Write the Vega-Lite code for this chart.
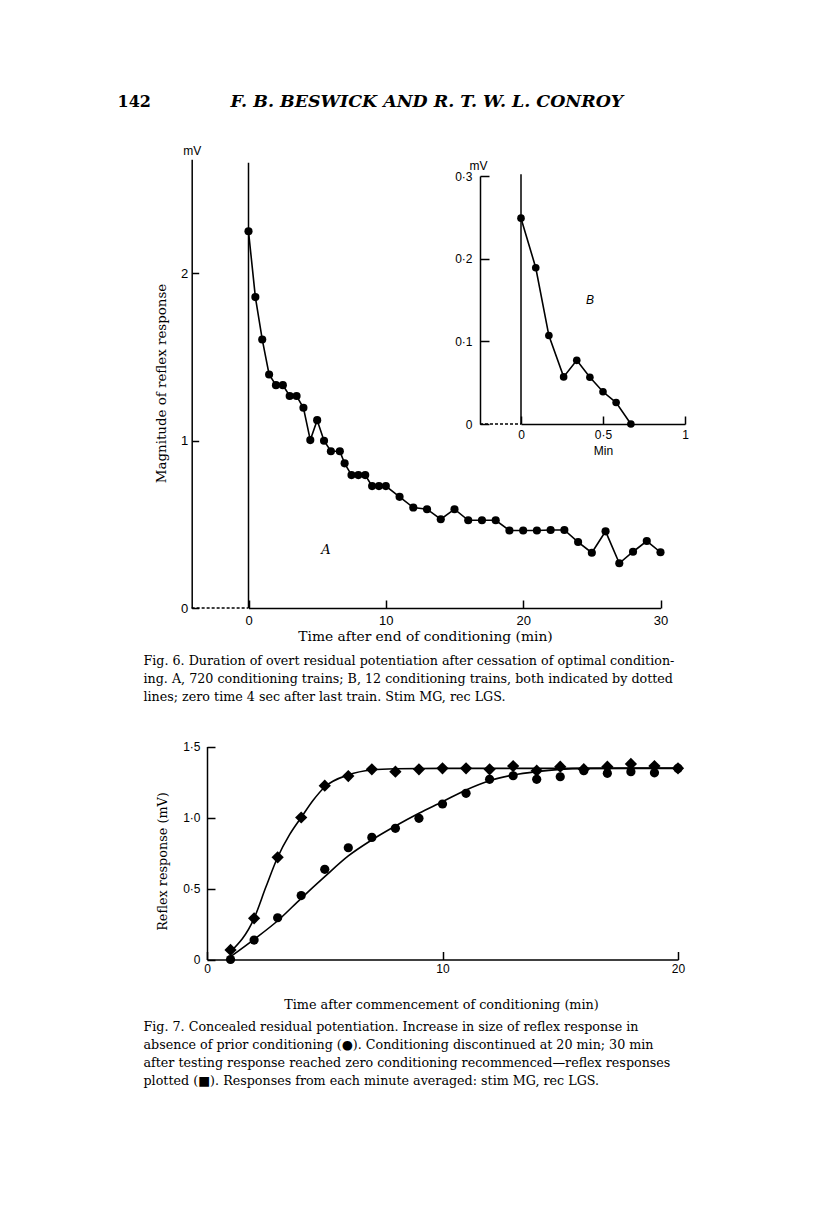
{
  "$schema": "https://vega.github.io/schema/vega-lite/v6.json",
  "width": 816,
  "height": 1221,
  "autosize": {"type": "none"},
  "padding": 0,
  "background": "white",
  "config": {
    "view": {"stroke": null},
    "axis": {"grid": false, "domainColor": "black", "tickColor": "black", "labelColor": "black", "titleColor": "black", "labelFlush": false, "labelOverlap": false}
  },
  "datasets": {
    "fig6": [
      {"t": 0, "mv": 2.25}, {"t": 0.5, "mv": 1.857}, {"t": 1, "mv": 1.604}, {"t": 1.5, "mv": 1.395},
      {"t": 2, "mv": 1.331}, {"t": 2.5, "mv": 1.331}, {"t": 3, "mv": 1.266}, {"t": 3.5, "mv": 1.266},
      {"t": 4, "mv": 1.196}, {"t": 4.5, "mv": 1.003}, {"t": 5, "mv": 1.122}, {"t": 5.5, "mv": 0.999},
      {"t": 6, "mv": 0.936}, {"t": 6.65, "mv": 0.936}, {"t": 7, "mv": 0.864}, {"t": 7.5, "mv": 0.794},
      {"t": 8, "mv": 0.794}, {"t": 8.5, "mv": 0.794}, {"t": 9, "mv": 0.728}, {"t": 9.5, "mv": 0.728},
      {"t": 10, "mv": 0.728}, {"t": 11, "mv": 0.664}, {"t": 12, "mv": 0.6}, {"t": 13, "mv": 0.59},
      {"t": 14, "mv": 0.53}, {"t": 15, "mv": 0.59}, {"t": 16, "mv": 0.524}, {"t": 17, "mv": 0.524},
      {"t": 18, "mv": 0.524}, {"t": 19, "mv": 0.463}, {"t": 20, "mv": 0.463}, {"t": 21, "mv": 0.463},
      {"t": 22, "mv": 0.466}, {"t": 23, "mv": 0.466}, {"t": 24, "mv": 0.394}, {"t": 25, "mv": 0.33},
      {"t": 26, "mv": 0.458}, {"t": 27, "mv": 0.267}, {"t": 28, "mv": 0.336}, {"t": 29, "mv": 0.4},
      {"t": 30, "mv": 0.333}
    ],
    "fig6b": [
      {"t": 0, "mv": 0.249}, {"t": 0.09, "mv": 0.189}, {"t": 0.17, "mv": 0.107}, {"t": 0.26, "mv": 0.057},
      {"t": 0.34, "mv": 0.077}, {"t": 0.42, "mv": 0.0565}, {"t": 0.5, "mv": 0.039}, {"t": 0.58, "mv": 0.026},
      {"t": 0.67, "mv": 0}
    ],
    "fig7pts": [
      {"t": 1, "mv": 0.0, "series": "absent"}, {"t": 2, "mv": 0.137, "series": "absent"},
      {"t": 3, "mv": 0.294, "series": "absent"}, {"t": 4, "mv": 0.45, "series": "absent"},
      {"t": 5, "mv": 0.635, "series": "absent"}, {"t": 6, "mv": 0.787, "series": "absent"},
      {"t": 7, "mv": 0.86, "series": "absent"}, {"t": 8, "mv": 0.924, "series": "absent"},
      {"t": 9, "mv": 0.994, "series": "absent"}, {"t": 10, "mv": 1.095, "series": "absent"},
      {"t": 11, "mv": 1.17, "series": "absent"}, {"t": 12, "mv": 1.269, "series": "absent"},
      {"t": 13, "mv": 1.294, "series": "absent"}, {"t": 14, "mv": 1.269, "series": "absent"},
      {"t": 15, "mv": 1.287, "series": "absent"}, {"t": 16, "mv": 1.33, "series": "absent"},
      {"t": 17, "mv": 1.311, "series": "absent"}, {"t": 18, "mv": 1.323, "series": "absent"},
      {"t": 19, "mv": 1.315, "series": "absent"}, {"t": 20, "mv": 1.346, "series": "absent"},
      {"t": 1, "mv": 0.067, "series": "recommenced"}, {"t": 2, "mv": 0.29, "series": "recommenced"},
      {"t": 3, "mv": 0.72, "series": "recommenced"}, {"t": 4, "mv": 1.0, "series": "recommenced"},
      {"t": 5, "mv": 1.224, "series": "recommenced"}, {"t": 6, "mv": 1.292, "series": "recommenced"},
      {"t": 7, "mv": 1.339, "series": "recommenced"}, {"t": 8, "mv": 1.323, "series": "recommenced"},
      {"t": 9, "mv": 1.339, "series": "recommenced"}, {"t": 10, "mv": 1.346, "series": "recommenced"},
      {"t": 11, "mv": 1.346, "series": "recommenced"}, {"t": 12, "mv": 1.339, "series": "recommenced"},
      {"t": 13, "mv": 1.362, "series": "recommenced"}, {"t": 14, "mv": 1.33, "series": "recommenced"},
      {"t": 15, "mv": 1.358, "series": "recommenced"}, {"t": 16, "mv": 1.34, "series": "recommenced"},
      {"t": 17, "mv": 1.358, "series": "recommenced"}, {"t": 18, "mv": 1.377, "series": "recommenced"},
      {"t": 19, "mv": 1.362, "series": "recommenced"}, {"t": 20, "mv": 1.346, "series": "recommenced"}
    ],
    "fig7fit": [
      {"t": 1, "mv": 0.02, "series": "absent"}, {"t": 2, "mv": 0.142, "series": "absent"},
      {"t": 3, "mv": 0.273, "series": "absent"}, {"t": 4, "mv": 0.431, "series": "absent"},
      {"t": 5, "mv": 0.583, "series": "absent"}, {"t": 6, "mv": 0.729, "series": "absent"},
      {"t": 7, "mv": 0.842, "series": "absent"}, {"t": 8, "mv": 0.94, "series": "absent"},
      {"t": 9, "mv": 1.03, "series": "absent"}, {"t": 10, "mv": 1.111, "series": "absent"},
      {"t": 11, "mv": 1.194, "series": "absent"}, {"t": 12, "mv": 1.259, "series": "absent"},
      {"t": 13, "mv": 1.299, "series": "absent"}, {"t": 14, "mv": 1.323, "series": "absent"},
      {"t": 15, "mv": 1.339, "series": "absent"}, {"t": 16, "mv": 1.346, "series": "absent"},
      {"t": 18, "mv": 1.348, "series": "absent"}, {"t": 20, "mv": 1.348, "series": "absent"},
      {"t": 1, "mv": 0.055, "series": "recommenced"}, {"t": 2, "mv": 0.29, "series": "recommenced"},
      {"t": 2.5, "mv": 0.51, "series": "recommenced"}, {"t": 3, "mv": 0.72, "series": "recommenced"},
      {"t": 3.5, "mv": 0.877, "series": "recommenced"}, {"t": 4, "mv": 1.0, "series": "recommenced"},
      {"t": 4.5, "mv": 1.12, "series": "recommenced"}, {"t": 5, "mv": 1.215, "series": "recommenced"},
      {"t": 6, "mv": 1.3, "series": "recommenced"}, {"t": 7, "mv": 1.335, "series": "recommenced"},
      {"t": 8, "mv": 1.343, "series": "recommenced"}, {"t": 10, "mv": 1.346, "series": "recommenced"},
      {"t": 15, "mv": 1.346, "series": "recommenced"}, {"t": 20, "mv": 1.346, "series": "recommenced"}
    ],
    "fig6refs": [
      {"panel": "A", "zero": 0, "from": -4.14, "base": 0, "top": 2.66, "label_t": 5.64, "label_mv": 0.346}
    ],
    "fig6brefs": [
      {"panel": "B", "zero": 0, "from": -0.25, "base": 0, "top": 0.302, "label_t": 0.42, "label_mv": 0.15}
    ]
  },
  "resolve": {"scale": {"x": "independent", "y": "independent"}, "axis": {"x": "independent", "y": "independent"}},
  "layer": [
    {
      "data": {"name": "fig6refs"},
      "mark": {"type": "rule", "color": "black", "strokeWidth": 1.5},
      "encoding": {
        "x": {"field": "zero", "type": "quantitative",
          "scale": {"domain": [0, 30], "range": [248.5, 660.5], "nice": false, "zero": false},
          "axis": {"orient": "top", "offset": 0, "domain": false, "ticks": false, "labels": false,
            "title": "F. B. BESWICK AND R. T. W. L. CONROY", "titleFont": "DejaVu Serif", "titleFontSize": 17.4, "titleFontWeight": "bold", "titleFontStyle": "italic",
            "titleX": 230, "titleY": 106, "titleAlign": "left", "titleBaseline": "alphabetic"}},
        "y": {"field": "base", "type": "quantitative",
          "scale": {"domain": [0, 2.68], "range": [608, 159.3], "nice": false, "zero": false},
          "axis": {"orient": "left", "offset": -191.7, "domain": false, "ticks": false, "labels": false,
            "title": "mV", "titleFont": "Liberation Sans", "titleFontSize": 12, "titleFontWeight": "normal",
            "titleAngle": 0, "titleX": 0, "titleY": 154, "titleAlign": "center", "titleBaseline": "alphabetic"}},
        "y2": {"field": "top"}
      }
    },
    {
      "data": {"name": "fig6refs"},
      "mark": {"type": "rule", "color": "black", "strokeWidth": 1.5, "strokeDash": [3, 2]},
      "encoding": {
        "x": {"field": "from", "type": "quantitative",
          "scale": {"domain": [0, 30], "range": [248.5, 660.5], "nice": false, "zero": false},
          "axis": {"orient": "top", "offset": 0, "domain": false, "ticks": false, "labels": false,
            "title": ["Fig. 6.  Duration of overt residual potentiation after cessation of optimal condition-",
                      "ing.  A, 720 conditioning trains;  B, 12 conditioning trains, both indicated by dotted",
                      "lines; zero time 4 sec after last train.  Stim MG, rec LGS."],
            "titleFont": "DejaVu Serif", "titleFontSize": 12.7, "titleFontWeight": "normal", "titleLineHeight": 18,
            "titleX": 143, "titleY": 664, "titleAlign": "left", "titleBaseline": "alphabetic"}},
        "x2": {"field": "zero"},
        "y": {"field": "base", "type": "quantitative",
          "scale": {"domain": [0, 2.68], "range": [608, 159.3], "nice": false, "zero": false},
          "axis": {"orient": "left", "offset": 0, "domain": false, "ticks": false, "labels": false,
            "title": "142", "titleFont": "DejaVu Serif", "titleFontSize": 16, "titleFontWeight": "bold",
            "titleAngle": 0, "titleX": 117, "titleY": 106, "titleAlign": "left", "titleBaseline": "alphabetic"}}
      }
    },
    {
      "data": {"name": "fig6refs"},
      "mark": {"type": "text", "font": "DejaVu Serif", "fontStyle": "italic", "fontSize": 13, "color": "black", "align": "center", "baseline": "middle"},
      "encoding": {
        "text": {"field": "panel"},
        "x": {"field": "label_t", "type": "quantitative", "scale": {"domain": [0, 30], "range": [248.5, 660.5], "nice": false, "zero": false}, "axis": null},
        "y": {"field": "label_mv", "type": "quantitative", "scale": {"domain": [0, 2.68], "range": [608, 159.3], "nice": false, "zero": false}, "axis": null}
      }
    },
    {
      "data": {"name": "fig6"},
      "mark": {"type": "line", "color": "black", "strokeWidth": 1.6, "point": {"filled": true, "size": 66, "color": "black", "opacity": 1}},
      "encoding": {
        "x": {"field": "t", "type": "quantitative",
          "scale": {"domain": [0, 30], "range": [248.5, 660.5], "nice": false, "zero": false},
          "axis": {"orient": "bottom", "offset": -613, "values": [0, 10, 20, 30], "format": "d", "domainWidth": 1.5, "tickSize": -8, "tickWidth": 1.5,
            "labelFont": "Liberation Sans", "labelFontSize": 13, "labelPadding": 14,
            "title": "Time after end of conditioning (min)", "titleFont": "DejaVu Serif", "titleFontSize": 13.8, "titleFontWeight": "normal",
            "titleX": 425, "titleY": 32, "titleAlign": "center", "titleBaseline": "alphabetic"}},
        "y": {"field": "mv", "type": "quantitative",
          "scale": {"domain": [0, 2.68], "range": [608, 159.3], "nice": false, "zero": false},
          "axis": {"orient": "left", "offset": -191.7, "values": [0, 1, 2], "format": "d", "domainWidth": 1.5, "tickSize": -7, "tickWidth": 1.5,
            "labelFont": "Liberation Sans", "labelFontSize": 13, "labelPadding": 11,
            "title": "Magnitude of reflex response", "titleFont": "DejaVu Serif", "titleFontSize": 13.4, "titleFontWeight": "normal",
            "titleX": -26.7, "titleY": 383, "titleAngle": -90, "titleAlign": "center", "titleBaseline": "alphabetic"}}
      }
    },
    {
      "data": {"name": "fig6brefs"},
      "mark": {"type": "rule", "color": "black", "strokeWidth": 1.5},
      "encoding": {
        "x": {"field": "zero", "type": "quantitative", "scale": {"domain": [0, 1], "range": [521, 685], "nice": false, "zero": false}, "axis": null},
        "y": {"field": "base", "type": "quantitative", "scale": {"domain": [0, 0.3], "range": [424, 176], "nice": false, "zero": false}, "axis": null},
        "y2": {"field": "top"}
      }
    },
    {
      "data": {"name": "fig6brefs"},
      "mark": {"type": "rule", "color": "black", "strokeWidth": 1.5, "strokeDash": [3, 2]},
      "encoding": {
        "x": {"field": "from", "type": "quantitative", "scale": {"domain": [0, 1], "range": [521, 685], "nice": false, "zero": false}, "axis": null},
        "x2": {"field": "zero"},
        "y": {"field": "base", "type": "quantitative", "scale": {"domain": [0, 0.3], "range": [424, 176], "nice": false, "zero": false}, "axis": null}
      }
    },
    {
      "data": {"name": "fig6brefs"},
      "mark": {"type": "text", "font": "Liberation Sans", "fontStyle": "italic", "fontSize": 12, "color": "black", "align": "center", "baseline": "middle"},
      "encoding": {
        "text": {"field": "panel"},
        "x": {"field": "label_t", "type": "quantitative", "scale": {"domain": [0, 1], "range": [521, 685], "nice": false, "zero": false}, "axis": null},
        "y": {"field": "label_mv", "type": "quantitative", "scale": {"domain": [0, 0.3], "range": [424, 176], "nice": false, "zero": false}, "axis": null}
      }
    },
    {
      "data": {"name": "fig6b"},
      "mark": {"type": "line", "color": "black", "strokeWidth": 1.6, "point": {"filled": true, "size": 58, "color": "black", "opacity": 1}},
      "encoding": {
        "x": {"field": "t", "type": "quantitative",
          "scale": {"domain": [0, 1], "range": [521, 685], "nice": false, "zero": false},
          "axis": {"orient": "bottom", "offset": -797, "values": [0, 0.5, 1], "labelExpr": "replace(toString(datum.value), '.', '·')", "domainWidth": 1.5, "tickSize": -8, "tickWidth": 1.5,
            "labelFont": "Liberation Sans", "labelFontSize": 12, "labelPadding": 13,
            "title": "Min", "titleFont": "Liberation Sans", "titleFontSize": 12, "titleFontWeight": "normal",
            "titleX": 603, "titleY": 30, "titleAlign": "center", "titleBaseline": "alphabetic"}},
        "y": {"field": "mv", "type": "quantitative",
          "scale": {"domain": [0, 0.3], "range": [424, 176], "nice": false, "zero": false},
          "axis": {"orient": "left", "offset": -480, "values": [0, 0.1, 0.2, 0.3], "labelExpr": "datum.value == 0 ? '0' : replace(format(datum.value, '.1f'), '.', '·')", "domainWidth": 1.5, "tickSize": -9, "tickWidth": 1.5,
            "labelFont": "Liberation Sans", "labelFontSize": 12, "labelPadding": 17,
            "title": "mV", "titleFont": "Liberation Sans", "titleFontSize": 12, "titleFontWeight": "normal",
            "titleAngle": 0, "titleX": -2, "titleY": 169, "titleAlign": "center", "titleBaseline": "alphabetic"}}
      }
    },
    {
      "data": {"name": "fig7fit"},
      "mark": {"type": "line", "color": "black", "strokeWidth": 1.6, "interpolate": "monotone"},
      "encoding": {
        "detail": {"field": "series", "type": "nominal"},
        "x": {"field": "t", "type": "quantitative",
          "scale": {"domain": [0, 20], "range": [207, 678], "nice": false, "zero": false},
          "axis": {"orient": "bottom", "offset": -261.5, "values": [0, 10, 20], "format": "d", "domainWidth": 1.5, "tickSize": -8, "tickWidth": 1.5,
            "labelFont": "Liberation Sans", "labelFontSize": 12, "labelPadding": 11.5,
            "title": "Time after commencement of conditioning (min)", "titleFont": "DejaVu Serif", "titleFontSize": 12.8, "titleFontWeight": "normal",
            "titleX": 441, "titleY": 48.5, "titleAlign": "center", "titleBaseline": "alphabetic"}},
        "y": {"field": "mv", "type": "quantitative",
          "scale": {"domain": [0, 1.5], "range": [959.5, 746.5], "nice": false, "zero": false},
          "axis": {"orient": "left", "offset": -207, "values": [0, 0.5, 1, 1.5], "labelExpr": "datum.value == 0 ? '0' : replace(format(datum.value, '.1f'), '.', '·')", "domainWidth": 1.5, "tickSize": -8, "tickWidth": 1.5,
            "labelFont": "Liberation Sans", "labelFontSize": 12, "labelPadding": 15,
            "title": "Reflex response (mV)", "titleFont": "DejaVu Serif", "titleFontSize": 12.8, "titleFontWeight": "normal",
            "titleX": -41, "titleY": 861, "titleAngle": -90, "titleAlign": "center", "titleBaseline": "alphabetic"}}
      }
    },
    {
      "data": {"name": "fig7pts"},
      "transform": [{"filter": "datum.series == 'absent'"}],
      "mark": {"type": "point", "shape": "circle", "filled": true, "size": 85, "color": "black", "opacity": 1},
      "encoding": {
        "x": {"field": "t", "type": "quantitative",
          "scale": {"domain": [0, 20], "range": [207, 678], "nice": false, "zero": false},
          "axis": {"orient": "top", "offset": 0, "domain": false, "ticks": false, "labels": false,
            "title": ["Fig. 7. Concealed residual potentiation. Increase in size of reflex response in",
                      "absence of prior conditioning (●). Conditioning discontinued at 20 min; 30 min",
                      "after testing response reached zero conditioning recommenced—reflex responses",
                      "plotted (■). Responses from each minute averaged: stim MG, rec LGS."],
            "titleFont": "DejaVu Serif", "titleFontSize": 12.7, "titleFontWeight": "normal", "titleLineHeight": 18,
            "titleX": 143, "titleY": 1030, "titleAlign": "left", "titleBaseline": "alphabetic"}},
        "y": {"field": "mv", "type": "quantitative",
          "scale": {"domain": [0, 1.5], "range": [959.5, 746.5], "nice": false, "zero": false}, "axis": null}
      }
    },
    {
      "data": {"name": "fig7pts"},
      "transform": [{"filter": "datum.series == 'recommenced'"}],
      "mark": {"type": "point", "shape": "diamond", "filled": true, "size": 150, "color": "black", "opacity": 1},
      "encoding": {
        "x": {"field": "t", "type": "quantitative", "scale": {"domain": [0, 20], "range": [207, 678], "nice": false, "zero": false}, "axis": null},
        "y": {"field": "mv", "type": "quantitative", "scale": {"domain": [0, 1.5], "range": [959.5, 746.5], "nice": false, "zero": false}, "axis": null}
      }
    }
  ]
}
